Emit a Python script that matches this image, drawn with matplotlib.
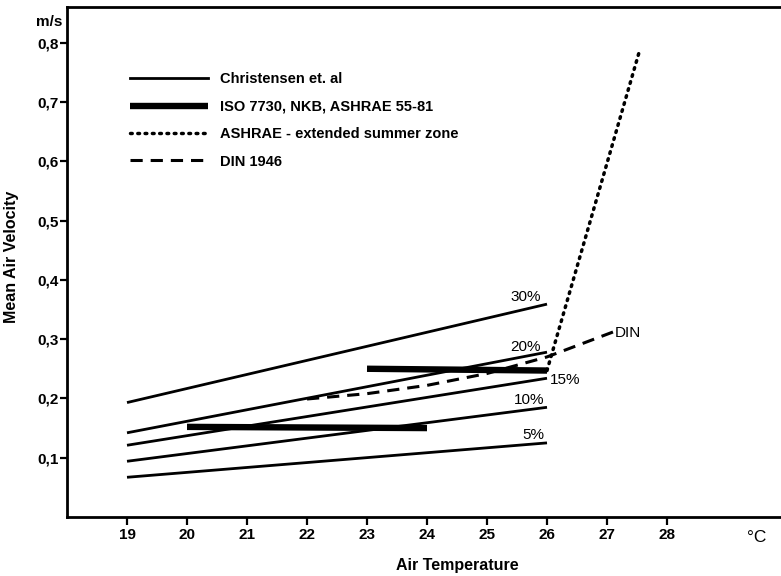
import matplotlib.pyplot as plt
from matplotlib.lines import Line2D
from matplotlib.ticker import FuncFormatter
from matplotlib.transforms import blended_transform_factory

# Christensen et. al curves (percentage dissatisfied), endpoints at 19 and 26 degC
chr_temp = [19, 26]
chr_labels = ['30%', '20%', '15%', '10%', '5%']
chr_values = [
    [0.193, 0.359],
    [0.142, 0.278],
    [0.121, 0.234],
    [0.094, 0.185],
    [0.067, 0.125],
]

# ISO 7730, NKB, ASHRAE 55-81
iso_winter_temp = [20, 24]
iso_winter_vel = [0.152, 0.150]
iso_summer_temp = [23, 26]
iso_summer_vel = [0.250, 0.247]

# ASHRAE extended summer zone
ashrae_temp = [26, 27.55]
ashrae_vel = [0.247, 0.789]

# DIN 1946
din_temp = [22, 23, 24, 25, 26, 27.1]
din_vel = [0.199, 0.208, 0.222, 0.242, 0.270, 0.312]

plt.rcParams['font.family'] = ['Liberation Sans', 'DejaVu Sans']
plt.rcParams['font.size'] = 10

THIN = 2.0
THICK = 4.6
DOTS = (0, (0.5, 1.6))
DASH = (0, (4, 2.6))

fig = plt.figure(figsize=(7.81, 5.76), dpi=100)
ax = fig.add_axes([0.0858, 0.1024, 0.9142, 0.8854])

for vals in chr_values:
    ax.plot(chr_temp, vals, color='black', lw=THIN, solid_capstyle='butt')

ax.plot(iso_winter_temp, iso_winter_vel, color='black', lw=THICK, solid_capstyle='butt')
ax.plot(iso_summer_temp, iso_summer_vel, color='black', lw=THICK, solid_capstyle='butt')
ax.plot(ashrae_temp, ashrae_vel, color='black', lw=2.5, linestyle=DOTS,
        dash_capstyle='round')
ax.plot(din_temp, din_vel, color='black', lw=2.2, linestyle=DASH)

# percentage labels on the Christensen curves
label_pos = {'30%': (-0.1, 0.0, 'right', 'bottom'),
             '20%': (-0.1, -0.003, 'right', 'bottom'),
             '15%': (0.05, -0.003, 'left', 'center'),
             '10%': (-0.05, 0.0, 'right', 'bottom'),
             '5%': (-0.05, 0.002, 'right', 'bottom')}
for lab, vals in zip(chr_labels, chr_values):
    dx, dy, ha, va = label_pos[lab]
    ax.text(chr_temp[1] + dx, vals[1] + dy, lab, fontsize=11, ha=ha, va=va)
ax.text(din_temp[-1] + 0.03, din_vel[-1] - 0.002, 'DIN', fontsize=11, va='center', ha='left')

# legend
handles = [
    Line2D([], [], color='black', lw=THIN),
    Line2D([], [], color='black', lw=THICK, solid_capstyle='butt'),
    Line2D([], [], color='black', lw=2.5, linestyle=DOTS, dash_capstyle='round'),
    Line2D([], [], color='black', lw=2.2, linestyle=DASH),
]
names = ['Christensen et. al', 'ISO 7730, NKB, ASHRAE 55-81',
         'ASHRAE - extended summer zone', 'DIN 1946']
ax.legend(handles, names, loc='upper left', bbox_to_anchor=(0.088, 0.872),
          frameon=False, handlelength=5.35, handletextpad=0.8, labelspacing=0.92,
          prop={'size': 10.5, 'weight': 'bold'}, borderaxespad=0, borderpad=0)

ax.set_xlim(18, 29.9)
ax.set_ylim(0, 0.86)
ax.set_xticks([19, 20, 21, 22, 23, 24, 25, 26, 27, 28])
ax.set_yticks([0.1, 0.2, 0.3, 0.4, 0.5, 0.6, 0.7, 0.8])
ax.yaxis.set_major_formatter(FuncFormatter(lambda v, p: f'{v:.1f}'.replace('.', ',')))
ax.tick_params(axis='y', direction='out', length=5, width=1.6, labelsize=11, pad=1)
ax.tick_params(axis='x', direction='out', length=5.8, width=1.6, labelsize=11, pad=2)
for lbl in ax.get_xticklabels() + ax.get_yticklabels():
    lbl.set_fontweight('bold')

ax.spines['right'].set_visible(False)
for s in ['left', 'bottom', 'top']:
    ax.spines[s].set_linewidth(2.0)

ax.set_ylabel('Mean Air Velocity', fontsize=11.5, fontweight='bold')
ax.yaxis.set_label_coords(-0.067, 0.51)
ax.set_xlabel('Air Temperature', fontsize=11.5, fontweight='bold', va='center')
ax.xaxis.set_label_coords(0.546, -0.096)

trans = blended_transform_factory(ax.transAxes, ax.transData)
ax.text(-0.025, 0.835, 'm/s', transform=trans, fontsize=11, fontweight='bold',
        ha='center', va='center')
ax.text(29.5, -0.022, '°C', fontsize=12.5, ha='center', va='top')

fig.savefig('out.png', dpi=100)
